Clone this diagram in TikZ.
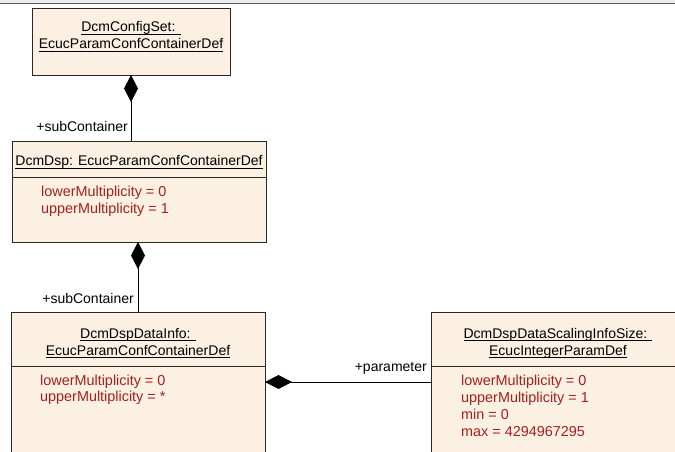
\documentclass[tikz,border=0pt]{standalone}
\usepackage{fontspec}
\setmainfont{Liberation Sans}
\usetikzlibrary{arrows.meta}
\definecolor{boxfill}{RGB}{251,240,225}
\definecolor{attr}{RGB}{165,32,32}
\definecolor{edge}{RGB}{40,40,40}
\newcommand\myul[1]{\setbox0\hbox{#1}\rlap{\rule[-3.2pt]{\wd0}{0.8pt}}\box0}
\tikzset{
  umlbox/.style={draw=edge, fill=boxfill, line width=0.9pt},
  title/.style={font=\fontsize{14}{16}\selectfont, inner sep=0pt, anchor=base},
  attrtxt/.style={font=\fontsize{14.4}{16}\selectfont, text=attr, inner sep=0pt, anchor=base west},
  role/.style={font=\fontsize{14}{16}\selectfont, inner sep=0pt, anchor=base east},
  comp/.style={draw=black, line width=0.9pt, {Diamond[length=27pt,width=14pt]}-},
}
\begin{document}
\begin{tikzpicture}[x=1pt,y=-1pt]
\useasboundingbox (0,0) rectangle (675,452);
\clip (0,0) rectangle (675,452);
% top band
\fill[gray!15] (0,0) rectangle (675,3);
\draw[gray!70!black, line width=1.3pt] (0,3.6) -- (675,3.6);

% box 1
\draw[umlbox] (32,8) rectangle (230,75);
\coordinate (b1s) at (131,75);
\node[title] (t1a) at (131,31.5) {\myul{DcmConfigSet: }};
\node[title] (t1b) at (131,48.5) {\myul{EcucParamConfContainerDef}};

% box 2
\draw[umlbox] (12,141) rectangle (266,242);
\draw[edge, line width=0.8pt] (12,177) -- (266,177);
\coordinate (b2n) at (131,141);
\coordinate (b2s) at (138,242);
\node[title] (t2) at (139,165.5) {\myul{DcmDsp: EcucParamConfContainerDef}};
\node[attrtxt] (a2a) at (41,196) {lowerMultiplicity = 0};
\node[attrtxt] (a2b) at (41,213) {upperMultiplicity = 1};

% box 3
\draw[umlbox] (11,312) rectangle (265,470);
\draw[edge, line width=0.8pt] (11,366) -- (265,366);
\coordinate (b3n) at (138,312);
\coordinate (b3e) at (265,382);
\node[title] (t3a) at (138,338) {\myul{DcmDspDataInfo: }};
\node[title] (t3b) at (138,355) {\myul{EcucParamConfContainerDef}};
\node[attrtxt] (a3a) at (40,385) {lowerMultiplicity = 0};
\node[attrtxt] (a3b) at (40,401.5) {upperMultiplicity = *};

% box 4
\draw[umlbox] (431,312) rectangle (685,470);
\draw[edge, line width=0.8pt] (431,366) -- (685,366);
\coordinate (b4w) at (431,382);
\node[title] (t4a) at (558,338) {\myul{DcmDspDataScalingInfoSize: }};
\node[title] (t4b) at (558,355) {\myul{EcucIntegerParamDef}};
\node[attrtxt] (a4a) at (461,385) {lowerMultiplicity = 0};
\node[attrtxt] (a4b) at (461,402) {upperMultiplicity = 1};
\node[attrtxt] (a4c) at (461,419.5) {min = 0};
\node[attrtxt] (a4d) at (461,436.5) {max = 4294967295};

% connectors
\draw[comp] (b1s) -- (b2n);
\node[role] (r1) at (128,131) {+subContainer};
\draw[comp] (b2s) -- (b3n);
\node[role] (r2) at (134,303) {+subContainer};
\draw[comp] (b3e) -- (b4w);
\node[role] (r3) at (427,371.5) {+parameter};
\end{tikzpicture}
\end{document}
